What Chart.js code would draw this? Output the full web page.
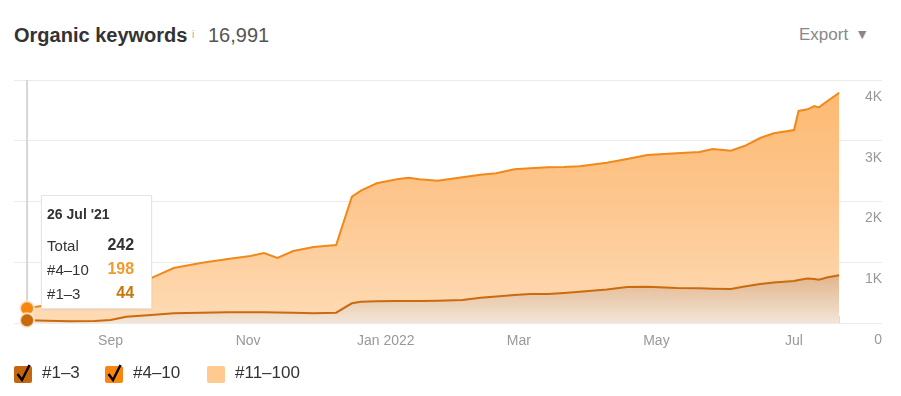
<!DOCTYPE html>
<html>
<head>
<meta charset="utf-8">
<script src="https://cdn.jsdelivr.net/npm/chart.js@4.4.0/dist/chart.umd.min.js"></script>
<style>
  body { margin: 0; background: #fff; font-family: "Liberation Sans", Arial, sans-serif; }
  #wrap { position: relative; width: 901px; height: 396px; overflow: hidden; }
  #chart { position: absolute; left: 0; top: 0; }
  .title { position: absolute; left: 14px; top: 24px; font-size: 20px; font-weight: bold; color: #333; white-space: nowrap; }
  .info { position: absolute; left: 192px; top: 29px; font-size: 10px; color: #aaa; }
  .total { position: absolute; left: 208px; top: 24px; font-size: 20px; color: #555; }
  .export { position: absolute; left: 799px; top: 25px; font-size: 17px; color: #888; }
  .export span { font-size: 14px; margin-left: 7px; position: relative; top: -1px; }
  .legend { position: absolute; top: 362px; left: 0; height: 24px; }
  .item { position: absolute; top: 0; white-space: nowrap; font-size: 17px; color: #333; }
  .box { position: absolute; top: 4px; width: 18px; height: 17px; border-radius: 2px; }
  .box svg { position: absolute; left: 0; top: -4px; }
  .item .lbl { position: absolute; top: 1px; }
  #tip { position: absolute; width: 109px; height: 112px; background: #fff; border: 1px solid #e4e4e4; box-shadow: 0 1px 2px rgba(0,0,0,0.06); }
  #tip .t { position: absolute; left: 5px; top: 10px; font-size: 14px; font-weight: bold; color: #333; }
  #tip .row { position: absolute; left: 5px; right: 17px; font-size: 15px; color: #333; height: 18px; }
  #tip .row b { position: absolute; right: 0; top: -1px; font-size: 16px; }
</style>
</head>
<body>
<div id="wrap">
  <div class="title">Organic keywords</div>
  <div class="info">i</div>
  <div class="total">16,991</div>
  <div class="export">Export<span>&#9660;</span></div>
  <canvas id="chart" width="901" height="396"></canvas>
  <div id="tip"></div>
  <div class="legend" id="legend"></div>
</div>
<script>
// days counted from 26 Jul 2021
const days = [0, 9, 19, 30, 37, 44, 55, 65, 77, 89, 99, 105, 111, 118, 127, 137, 144, 148, 155, 164,
  169, 174, 182, 193, 201, 208, 216, 223, 231, 238, 245, 257, 266, 275, 288, 298, 304, 312, 318, 325,
  331, 340, 342, 346, 349, 351, 355, 360];
const top3 = [44, 35, 28, 33, 49, 104, 132, 160, 170, 176, 176, 176, 173, 170, 160, 170, 324, 351, 357, 362,
  362, 364, 367, 379, 417, 436, 461, 477, 477, 494, 515, 551, 593, 598, 576, 571, 565, 560, 601, 642,
  667, 691, 708, 732, 724, 713, 752, 785];
const top10 = [198, 261, 352, 447, 496, 521, 608, 745, 818, 877, 927, 976, 897, 1015, 1091, 1114, 1755, 1827, 1943, 2003,
  2030, 2001, 1975, 2019, 2024, 2028, 2069, 2069, 2086, 2074, 2064, 2088, 2107, 2167, 2217, 2244, 2299, 2276, 2312, 2403,
  2455, 2486, 2782, 2785, 2848, 2837, 2907, 3006];

const tickDays = [37, 98, 159, 218, 279, 340, 360];
const tickLabels = ['Sep', 'Nov', 'Jan 2022', 'Mar', 'May', 'Jul', ''];
const yTicks = [0, 1000, 2000, 3000, 4000];
const yTickLabels = ['0', '1K', '2K', '3K', '4K'];

const seriesNames = ['#1–3', '#4–10', '#11–100'];
const seriesColors = ['#c4670c', '#f7870f', '#ffc98f'];
const seriesShown = [true, true, false];

const hoverIndex = 0;
const hoverLabel = "26 Jul '21";

Chart.defaults.font.family = '"Liberation Sans", Arial, sans-serif';

function grad(ctx, stops) {
    const area = ctx.chart.chartArea;
    if (!area) return stops[0][1];
    const g = ctx.chart.ctx.createLinearGradient(0, area.top, 0, area.bottom);
    stops.forEach(s => g.addColorStop(s[0], s[1]));
    return g;
}

const hoverLine = {
    id: 'hoverLine',
    beforeDatasetsDraw(chart) {
        const x = chart.scales.x.getPixelForValue(days[hoverIndex]);
        const c = chart.ctx;
        c.save();
        c.strokeStyle = '#d6d6d6';
        c.lineWidth = 2;
        c.beginPath();
        c.moveTo(x, chart.chartArea.top);
        c.lineTo(x, chart.chartArea.bottom);
        c.stroke();
        c.restore();
    },
    afterRender(chart) {
        const x = chart.scales.x.getPixelForValue(days[hoverIndex]);
        const tip = document.getElementById('tip');
        tip.style.left = (x + 14) + 'px';
        tip.style.top = (chart.chartArea.top + 115) + 'px';
    }
};

new Chart(document.getElementById('chart'), {
    type: 'line',
    data: {
        datasets: [
            {
                label: seriesNames[0],
                data: days.map((d, i) => ({ x: d, y: top3[i] })),
                borderColor: '#c96b0e',
                borderWidth: 2,
                clip: false,
                fill: 'origin',
                backgroundColor: ctx => grad(ctx, [[0, '#cf8a45'], [0.8, '#e2b489'], [1, '#f3e5d8']]),
                pointRadius: ctx => ctx.dataIndex === hoverIndex ? 7 : 0,
                pointBackgroundColor: '#c8690c',
                pointBorderColor: 'rgba(255,238,220,0.8)',
                pointBorderWidth: 2
            },
            {
                label: seriesNames[1],
                data: days.map((d, i) => ({ x: d, y: top10[i] })),
                borderColor: '#f0891a',
                borderWidth: 2,
                clip: false,
                fill: '-1',
                backgroundColor: ctx => grad(ctx, [[0, '#fdb96f'], [0.5, '#fdc68e'], [1, '#fedbb5']]),
                pointRadius: ctx => ctx.dataIndex === hoverIndex ? 7 : 0,
                pointBackgroundColor: '#f7870f',
                pointBorderColor: 'rgba(255,238,220,0.8)',
                pointBorderWidth: 2
            }
        ]
    },
    options: {
        responsive: false,
        animation: false,
        events: [],
        devicePixelRatio: 1,
        layout: { padding: { top: 80, left: 14, right: 19, bottom: 43 } },
        elements: { line: { tension: 0 } },
        plugins: {
            legend: { display: false },
            tooltip: { enabled: false }
        },
        scales: {
            x: {
                type: 'linear',
                min: -5.8,
                max: 379,
                afterBuildTicks: axis => { axis.ticks = tickDays.map(v => ({ value: v })); },
                afterFit: axis => { axis.height = 30; },
                ticks: {
                    callback: v => tickLabels[tickDays.indexOf(v)],
                    color: '#999',
                    font: { size: 14 },
                    padding: 17,
                    maxRotation: 0,
                    autoSkip: false
                },
                grid: { drawOnChartArea: false, drawTicks: true, tickLength: -7, color: '#dcdcdc' },
                border: { display: false }
            },
            y: {
                position: 'right',
                stacked: true,
                min: 0,
                max: 4000,
                afterBuildTicks: axis => { axis.ticks = yTicks.map(v => ({ value: v })); },
                afterFit: axis => { axis.width = 0; },
                ticks: {
                    callback: v => yTickLabels[yTicks.indexOf(v)],
                    mirror: true,
                    padding: 0,
                    labelOffset: 17,
                    color: '#999',
                    font: { size: 14 }
                },
                grid: { color: '#ebebeb', drawTicks: false },
                border: { display: false }
            }
        }
    },
    plugins: [hoverLine]
});

// tooltip text
const tip = document.getElementById('tip');
const rows = [
    ['Total', top3[hoverIndex] + top10[hoverIndex], '#333'],
    [seriesNames[1], top10[hoverIndex], '#f39a2c'],
    [seriesNames[0], top3[hoverIndex], '#c8780f']
];
tip.innerHTML = '<div class="t">' + hoverLabel + '</div>' +
    rows.map((r, i) => '<div class="row" style="top:' + (41 + i * 24) + 'px">' + r[0] +
        '<b style="color:' + r[2] + '">' + r[1] + '</b></div>').join('');

// legend
const legendX = [14, 105, 207];
const legend = document.getElementById('legend');
legend.innerHTML = seriesNames.map((n, i) =>
    '<div class="item" style="left:' + legendX[i] + 'px">' +
    '<div class="box" style="background:' + seriesColors[i] + '">' +
    (seriesShown[i] ? '<svg width="20" height="22" viewBox="0 0 20 22"><path d="M3.5 12 L8 18 L15.5 3" fill="none" stroke="#000" stroke-width="2.4"/></svg>' : '') +
    '</div><span class="lbl" style="left:28px">' + n + '</span></div>'
).join('');
</script>
</body>
</html>
